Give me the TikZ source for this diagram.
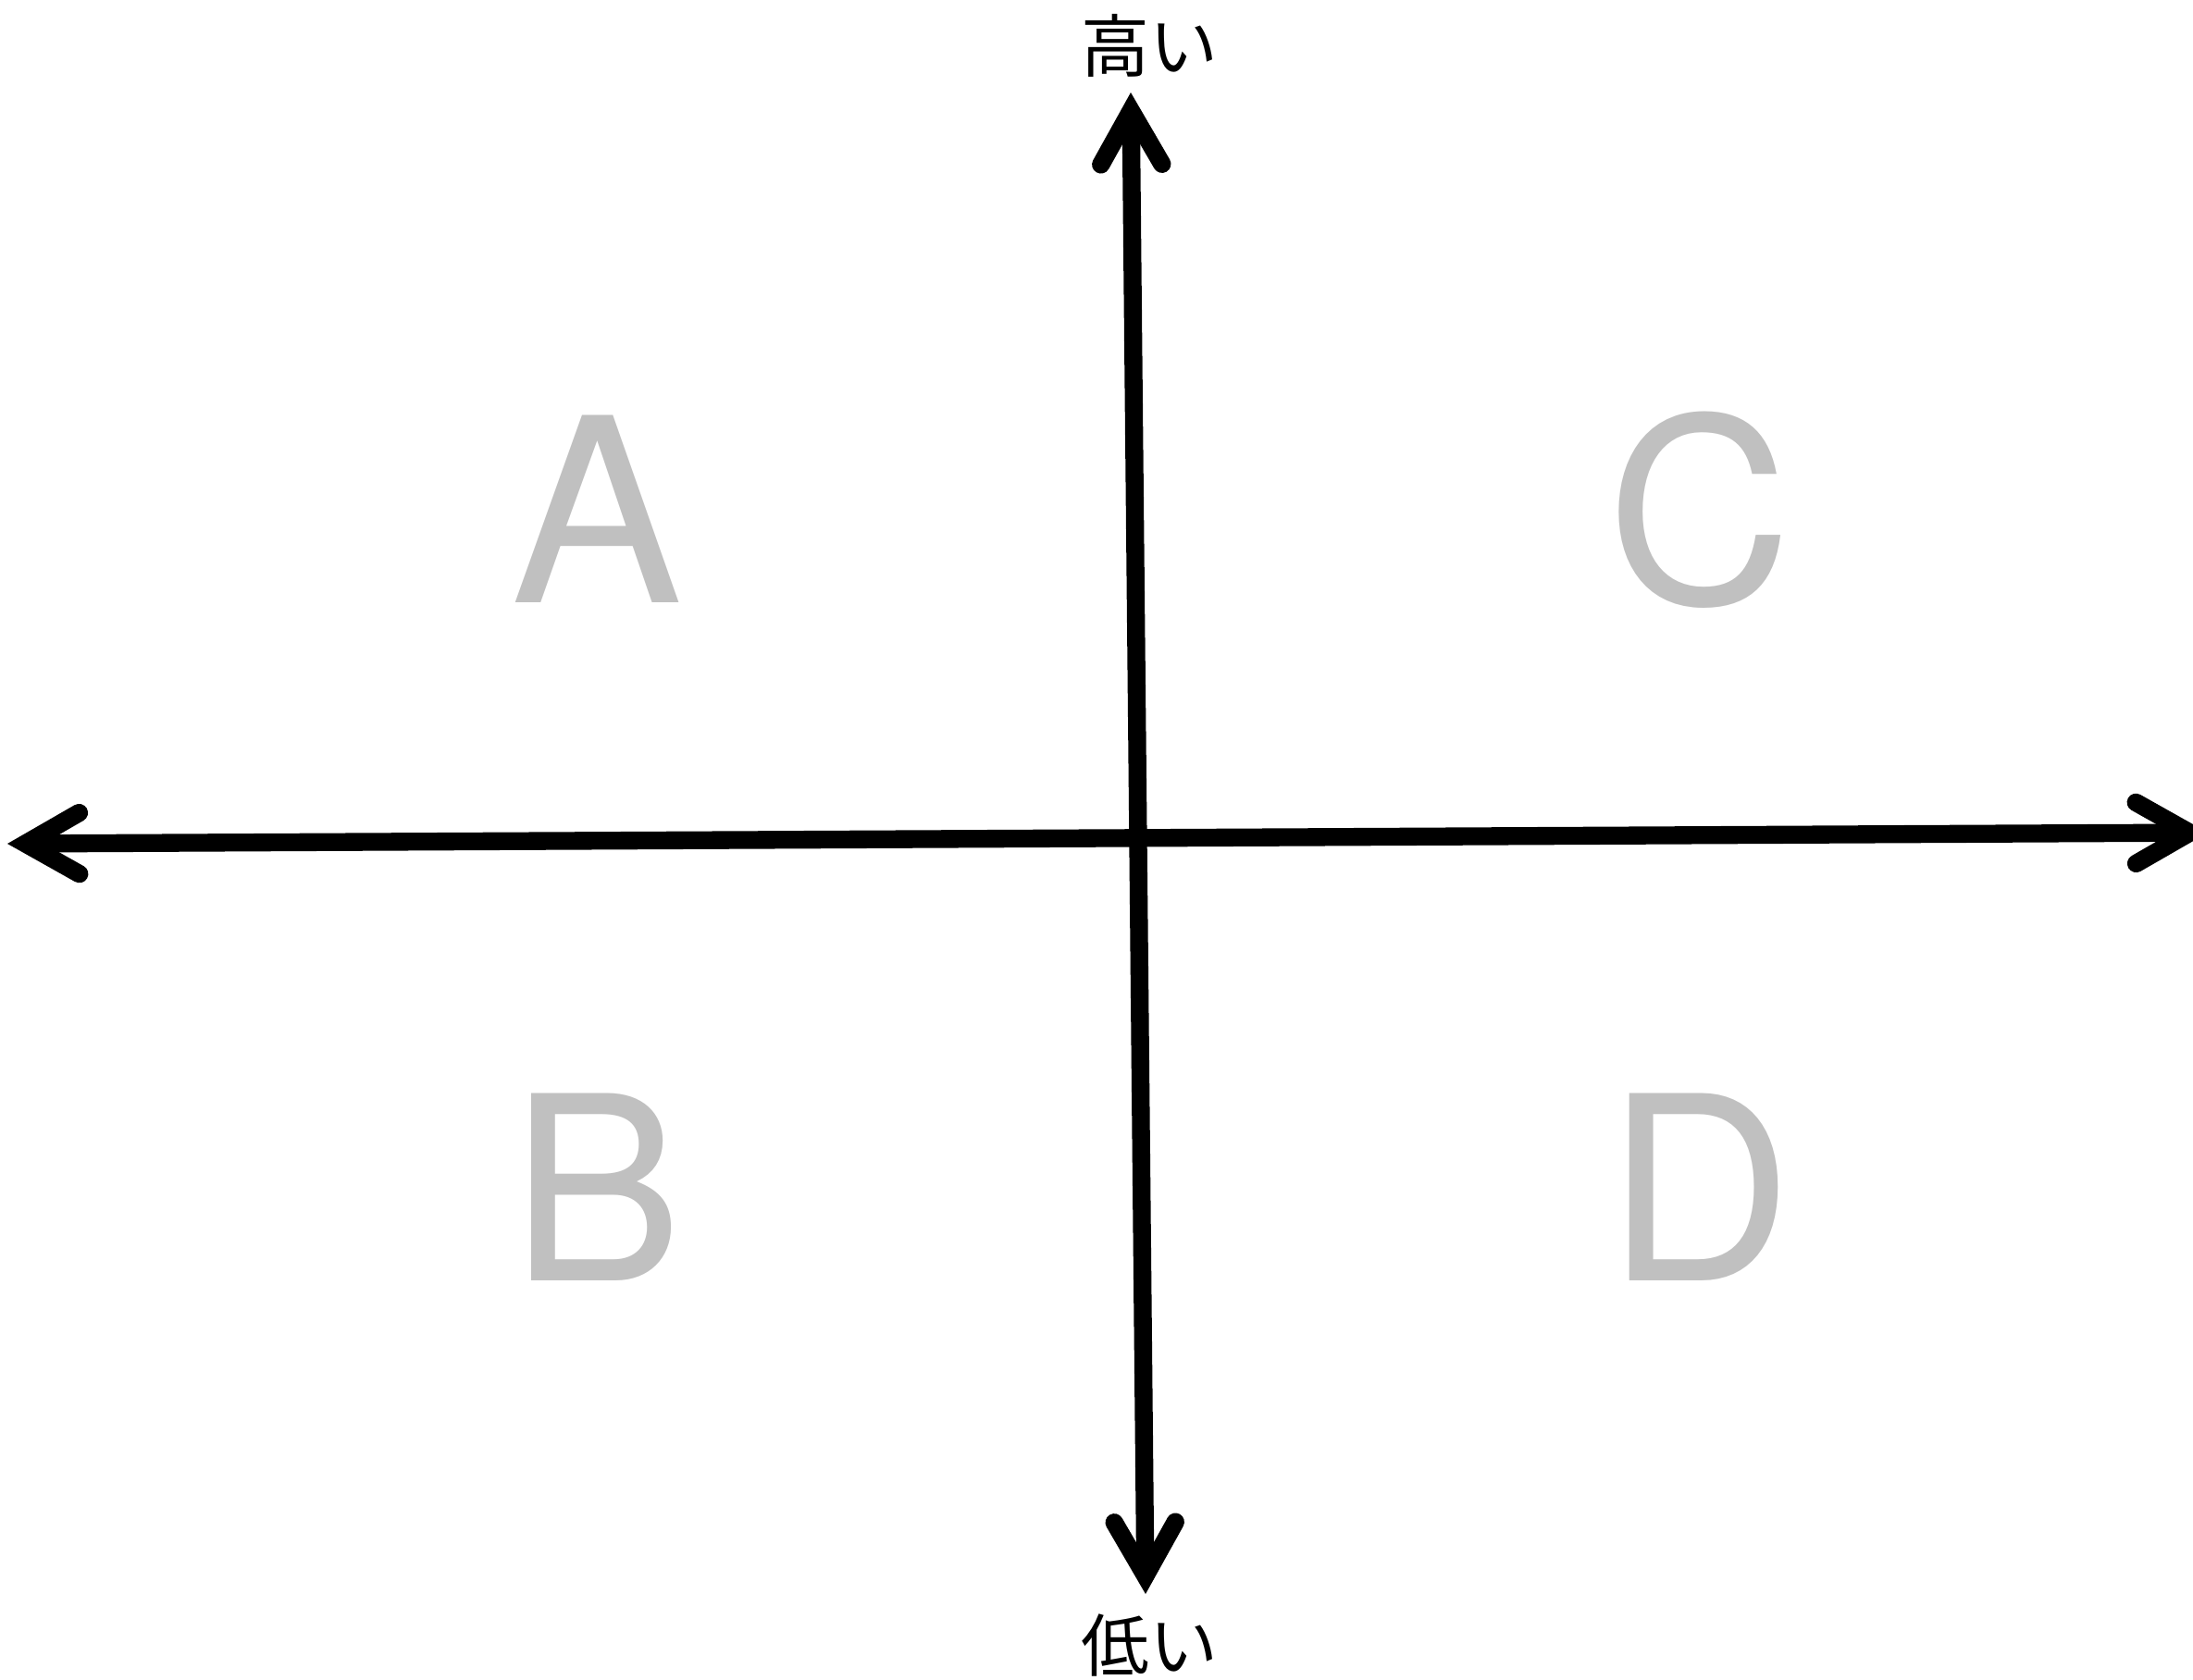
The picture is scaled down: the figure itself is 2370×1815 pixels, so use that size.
\documentclass[tikz,border=0pt]{standalone}
\usepackage{fontspec}
\setmainfont{TeX Gyre Heros}
\newfontfamily\jpfont{Noto Sans CJK JP}
\usetikzlibrary{arrows.meta}
\definecolor{quadgray}{RGB}{192,192,192}

\begin{document}
\begin{tikzpicture}[x=0.01cm, y=-0.01cm,
    axis/.style={line width=5.5pt,
      {Straight Barb[length=0.58cm, width=0.66cm, line cap=round, line join=miter]}-{Straight Barb[length=0.58cm, width=0.66cm, line cap=round, line join=miter]}},
    quad/.style={text=quadgray, font=\fontsize{79}{79}\selectfont, inner sep=0pt},
    axislabel/.style={font=\jpfont\fontsize{21}{21}\selectfont, inner sep=0pt}]
        \useasboundingbox (0,0) rectangle (2370,1815);

        % Axis ends
        \coordinate (high) at (1222,100);
        \coordinate (low) at (1238,1723);
        \coordinate (left) at (8,912);
        \coordinate (right) at (2386,900);

        % Axes
        \draw[axis] (low) -- (high);
        \draw[axis] (left) -- (right);

        % Labels
        \node[axislabel] (highlabel) at (1242,49) {高い};
        \node[axislabel] (lowlabel) at (1242,1778) {低い};

        % Quadrants
        \node[quad] (qa) at (645,550) {A};
        \node[quad] (qc) at (1837,551) {C};
        \node[quad] (qb) at (645,1283) {B};
        \node[quad] (qd) at (1837,1283) {D};
    \end{tikzpicture}
\end{document}
